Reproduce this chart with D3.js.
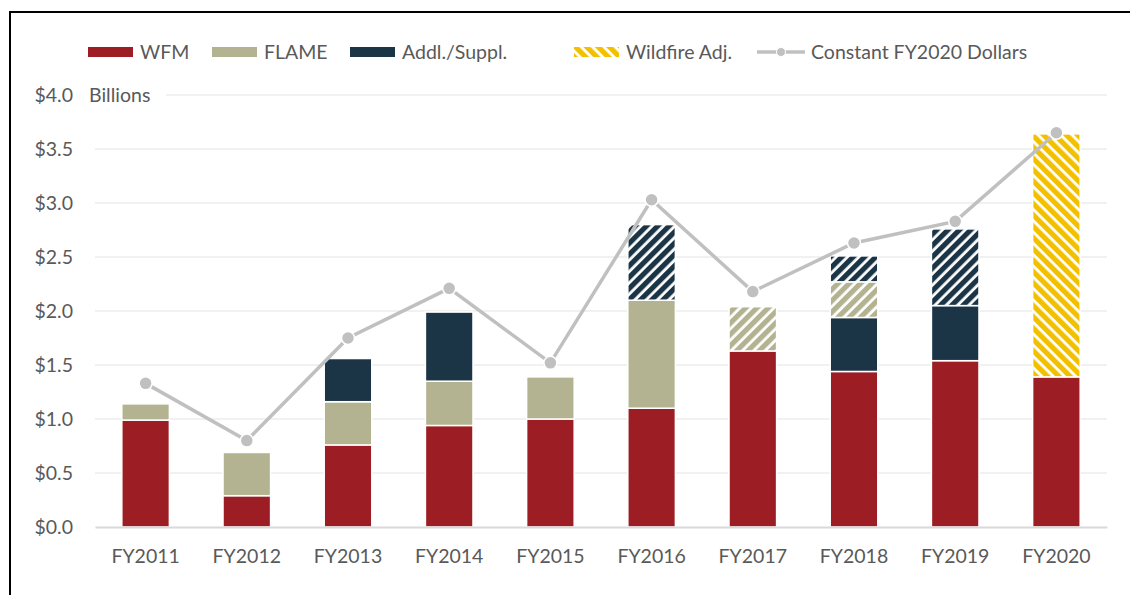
<!DOCTYPE html>
<html>
<head>
<meta charset="utf-8">
<script src="https://cdn.jsdelivr.net/npm/d3@7"></script>
<style>
  body { margin: 0; background: #fff; }
  svg text { font-family: Lato, "Open Sans", sans-serif; fill: #595959; }
</style>
</head>
<body>
<div id="chart"></div>
<script>
// data (billions of dollars)
const years = ["FY2011", "FY2012", "FY2013", "FY2014", "FY2015", "FY2016", "FY2017", "FY2018", "FY2019", "FY2020"]
const wfm = [0.99, 0.29, 0.76, 0.94, 1.00, 1.10, 1.63, 1.44, 1.54, 1.39]
const flame = [0.15, 0.40, 0.40, 0.41, 0.39, 1.00, 0, 0, 0, 0]
const addl = [0, 0, 0.40, 0.64, 0, 0, 0, 0.50, 0.51, 0]
const flameAdj = [0, 0, 0, 0, 0, 0, 0.41, 0.33, 0, 0]
const addlAdj = [0, 0, 0, 0, 0, 0.70, 0, 0.24, 0.71, 0]
const wildfireAdj = [0, 0, 0, 0, 0, 0, 0, 0, 0, 2.25]
const constant2020 = [1.33, 0.80, 1.75, 2.21, 1.52, 3.03, 2.18, 2.63, 2.83, 3.65]
const yTicks = [0, 0.5, 1.0, 1.5, 2.0, 2.5, 3.0, 3.5, 4.0]

const RED = "#9c1d24", TAN = "#b3b391", NAVY = "#1b3547", GOLD = "#f3c000", LINE = "#c0c0c0"

const series = [
  { key: "wfm", values: wfm, fill: RED },
  { key: "flame", values: flame, fill: TAN },
  { key: "addl", values: addl, fill: NAVY },
  { key: "flameAdj", values: flameAdj, fill: "url(#hatch-tan)" },
  { key: "addlAdj", values: addlAdj, fill: "url(#hatch-navy)" },
  { key: "wildfireAdj", values: wildfireAdj, fill: "url(#hatch-gold)" }
]

const W = 1130, H = 595
const MARGIN = { top: 95, right: 23, bottom: 68, left: 95 }
const WIDTH = W - MARGIN.left - MARGIN.right
const HEIGHT = H - MARGIN.top - MARGIN.bottom
const FONT = "19.5px"

const svg = d3.select("#chart").append("svg")
  .attr("width", W)
  .attr("height", H)

// hatch patterns
const defs = svg.append("defs")
function hatch(id, color, angle) {
  const p = defs.append("pattern")
    .attr("id", id)
    .attr("patternUnits", "userSpaceOnUse")
    .attr("width", 8)
    .attr("height", 8)
    .attr("patternTransform", `rotate(${angle})`)
  p.append("rect").attr("width", 8).attr("height", 8).attr("fill", "#fff")
  p.append("rect").attr("width", 5.2).attr("height", 8).attr("fill", color)
}
hatch("hatch-tan", TAN, 45)
hatch("hatch-navy", NAVY, 45)
hatch("hatch-gold", GOLD, -45)

// outer frame
svg.append("rect")
  .attr("x", 10).attr("y", 12)
  .attr("width", W + 20).attr("height", H + 20)
  .attr("fill", "none")
  .attr("stroke", "#000")
  .attr("stroke-width", 2)

const g = svg.append("g")
  .attr("transform", `translate(${MARGIN.left}, ${MARGIN.top})`)

const x = d3.scaleBand()
  .domain(years)
  .range([0, WIDTH])
  .paddingInner(0.53)
  .paddingOuter(0.265)

const y = d3.scaleLinear()
  .domain([0, 4])
  .range([HEIGHT, 0])

// gridlines
g.append("g")
  .selectAll("line")
  .data(yTicks.filter(d => d > 0))
  .join("line")
  .attr("x1", d => d === 4 ? 71 : 0)
  .attr("x2", WIDTH)
  .attr("y1", d => y(d))
  .attr("y2", d => y(d))
  .attr("stroke", "#ececec")
  .attr("stroke-width", 1.5)

// y axis labels
const yAxis = g.append("g")
  .call(d3.axisLeft(y).tickValues(yTicks).tickFormat(d => "$" + d3.format(".1f")(d)).tickSize(0).tickPadding(22))
  .attr("font-size", FONT)
yAxis.select(".domain").remove()
yAxis.selectAll("text").attr("fill", "#595959").style("font-family", "Lato, sans-serif")

g.append("text")
  .attr("x", -6)
  .attr("y", y(4))
  .attr("dy", "0.35em")
  .attr("font-size", FONT)
  .text("Billions")

// stacked bars
const table = years.map((yr, i) => {
  const row = { year: yr }
  series.forEach(s => { row[s.key] = s.values[i] })
  return row
})
const stacked = d3.stack().keys(series.map(s => s.key))(table)

g.selectAll("g.layer")
  .data(stacked)
  .join("g")
  .attr("class", "layer")
  .attr("fill", (d, i) => series[i].fill)
  .selectAll("rect")
  .data(d => d.filter(v => v[1] - v[0] > 0))
  .join("rect")
  .attr("x", d => x(d.data.year))
  .attr("y", d => y(d[1]))
  .attr("width", x.bandwidth())
  .attr("height", d => y(d[0]) - y(d[1]))
  .attr("stroke", "#fff")
  .attr("stroke-width", 1.5)

// x axis
const xAxis = g.append("g")
  .attr("transform", `translate(0, ${HEIGHT})`)
  .call(d3.axisBottom(x).tickSize(0).tickPadding(22))
  .attr("font-size", FONT)
xAxis.select(".domain").attr("stroke", "#d9d9d9").attr("stroke-width", 2)
xAxis.selectAll("text").attr("fill", "#595959").style("font-family", "Lato, sans-serif")

// constant dollars line
const line = d3.line()
  .x((d, i) => x(years[i]) + x.bandwidth() / 2)
  .y(d => y(d))

g.append("path")
  .datum(constant2020)
  .attr("d", line)
  .attr("fill", "none")
  .attr("stroke", LINE)
  .attr("stroke-width", 3.5)

g.selectAll("circle.pt")
  .data(constant2020)
  .join("circle")
  .attr("class", "pt")
  .attr("cx", (d, i) => x(years[i]) + x.bandwidth() / 2)
  .attr("cy", d => y(d))
  .attr("r", 6.5)
  .attr("fill", LINE)
  .attr("stroke", "#fff")
  .attr("stroke-width", 1.5)

// legend
const legend = svg.append("g").attr("transform", "translate(0, 52)")
const legendItems = [
  { label: "WFM", fill: RED, x: 88 },
  { label: "FLAME", fill: TAN, x: 212 },
  { label: "Addl./Suppl.", fill: NAVY, x: 350 },
  { label: "Wildfire Adj.", fill: "url(#hatch-gold)", x: 574 }
]
legendItems.forEach(it => {
  legend.append("rect")
    .attr("x", it.x).attr("y", -5)
    .attr("width", 45).attr("height", 10)
    .attr("fill", it.fill)
  legend.append("text")
    .attr("x", it.x + 52)
    .attr("dy", "0.35em")
    .attr("font-size", FONT)
    .text(it.label)
})
legend.append("line")
  .attr("x1", 757).attr("x2", 805)
  .attr("stroke", LINE).attr("stroke-width", 3.5)
legend.append("circle")
  .attr("cx", 781).attr("r", 4.5)
  .attr("fill", LINE).attr("stroke", "#fff").attr("stroke-width", 1)
legend.append("text")
  .attr("x", 811)
  .attr("dy", "0.35em")
  .attr("font-size", FONT)
  .text("Constant FY2020 Dollars")
</script>
</body>
</html>
